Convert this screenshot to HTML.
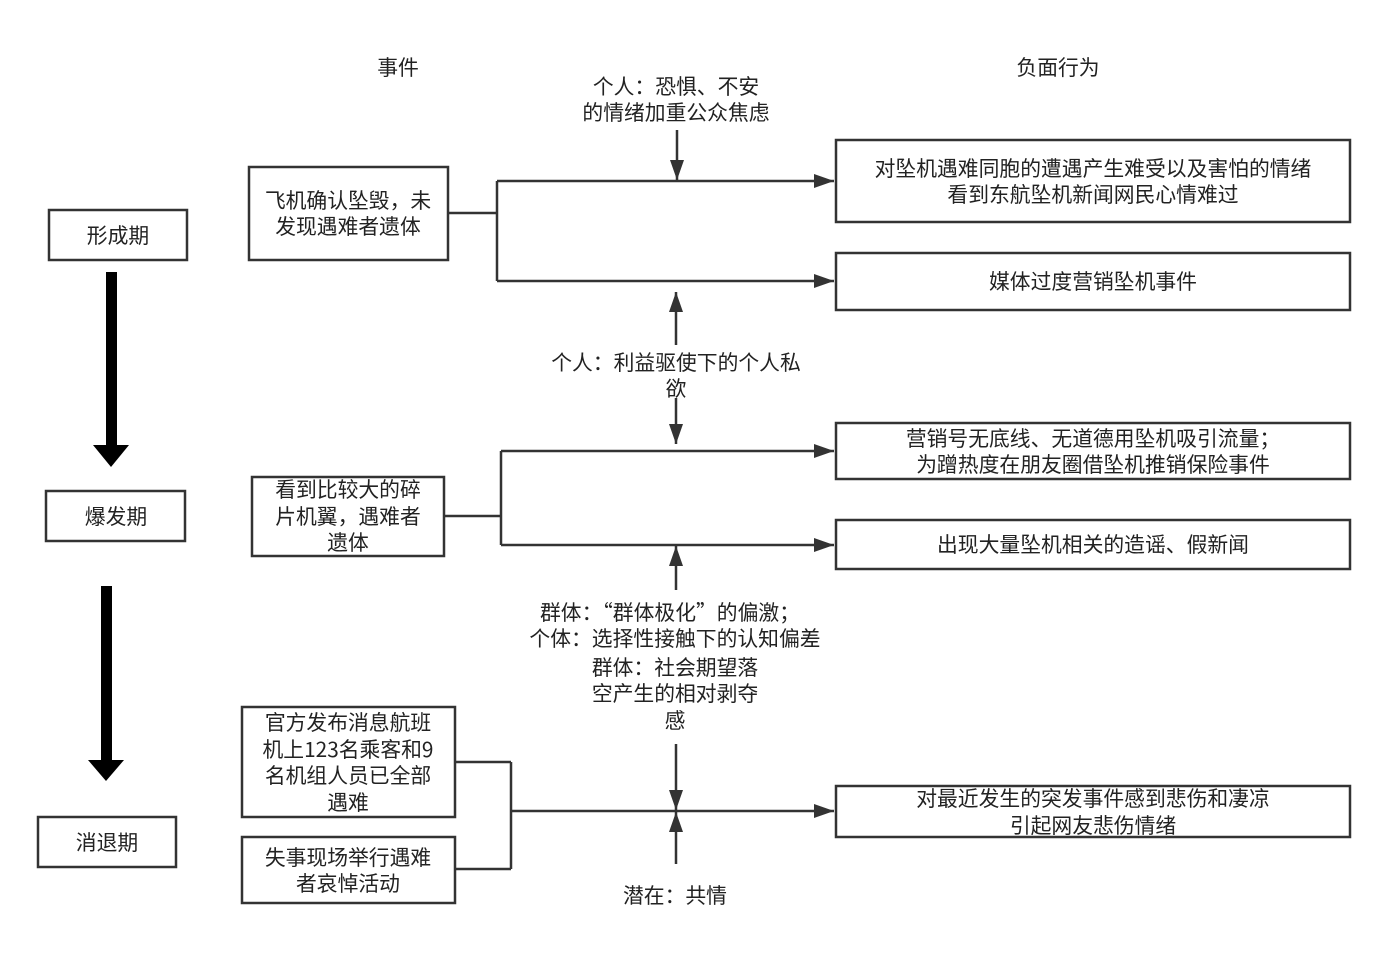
<!DOCTYPE html>
<html><head><meta charset="utf-8"><style>
body{margin:0;background:#fff}
svg text{font-family:"Noto Sans CJK SC","Liberation Sans",sans-serif;font-size:20.8px;fill:#222;text-anchor:middle;dominant-baseline:middle}
</style></head><body>
<svg width="1387" height="961" xmlns="http://www.w3.org/2000/svg">
<defs><marker id="b" markerWidth="20" markerHeight="14" refX="20" refY="7" orient="auto" markerUnits="userSpaceOnUse"><path d="M0,0L20,7L0,14z" fill="#333"/></marker></defs>
<g fill="#fff" stroke="#333" stroke-width="2.5">
<rect x="49" y="210" width="138" height="50"/><rect x="46" y="491" width="139" height="50"/><rect x="38" y="817" width="138" height="50"/>
<rect x="249" y="167" width="199" height="93"/><rect x="252" y="477" width="192" height="79"/><rect x="242" y="707" width="213" height="110"/><rect x="242" y="837" width="213" height="66"/>
<rect x="836" y="140" width="514" height="82"/><rect x="836" y="253" width="514" height="57"/><rect x="836" y="423" width="514" height="56"/><rect x="836" y="520" width="514" height="49"/><rect x="836" y="786" width="514" height="51"/>
</g>
<g fill="#000"><rect x="106" y="272" width="11" height="175"/><path d="M93,445L129,445L111,467z"/><rect x="101" y="586" width="11" height="176"/><path d="M88,760L124,760L106,781z"/></g>
<g fill="none" stroke="#333" stroke-width="2.5">
<path d="M448,213H497M497,181V281"/><path d="M497,181H834" marker-end="url(#b)"/><path d="M497,281H834" marker-end="url(#b)"/>
<path d="M677,130V180" marker-end="url(#b)"/><path d="M676,345V292" marker-end="url(#b)"/><path d="M676,398V444" marker-end="url(#b)"/>
<path d="M444,516H501M501,451V545"/><path d="M501,451H834" marker-end="url(#b)"/><path d="M501,545H834" marker-end="url(#b)"/>
<path d="M676,590V546" marker-end="url(#b)"/>
<path d="M455,762H511M455,869H511M511,762V869"/><path d="M511,811H834" marker-end="url(#b)"/>
<path d="M676,744V810" marker-end="url(#b)"/><path d="M676,864V812" marker-end="url(#b)"/>
</g>
<g transform="translate(0,2.5)">
<text x="398" y="67">事件</text><text x="1058" y="67">负面行为</text>
<text x="118" y="235">形成期</text><text x="116" y="516">爆发期</text><text x="107" y="842">消退期</text>
<text x="348" y="200">飞机确认坠毁，未</text><text x="348" y="226">发现遇难者遗体</text>
<text x="348" y="489">看到比较大的碎</text><text x="348" y="516">片机翼，遇难者</text><text x="348" y="542">遗体</text>
<text x="348" y="722">官方发布消息航班</text><text x="348" y="749">机上123名乘客和9</text><text x="348" y="775">名机组人员已全部</text><text x="348" y="802">遇难</text>
<text x="348" y="857">失事现场举行遇难</text><text x="348" y="883">者哀悼活动</text>
<text x="1093" y="168">对坠机遇难同胞的遭遇产生难受以及害怕的情绪</text><text x="1093" y="194">看到东航坠机新闻网民心情难过</text>
<text x="1093" y="281">媒体过度营销坠机事件</text>
<text x="1093" y="438">营销号无底线、无道德用坠机吸引流量；</text><text x="1093" y="464">为蹭热度在朋友圈借坠机推销保险事件</text>
<text x="1093" y="544">出现大量坠机相关的造谣、假新闻</text>
<text x="1093" y="798">对最近发生的突发事件感到悲伤和凄凉</text><text x="1093" y="825">引起网友悲伤情绪</text>
<text x="676" y="86">个人：恐惧、不安</text><text x="676" y="112">的情绪加重公众焦虑</text>
<text x="676" y="362">个人：利益驱使下的个人私</text><text x="676" y="388">欲</text>
<text x="670" y="612">群体：“群体极化”的偏激；</text><text x="675" y="638">个体：选择性接触下的认知偏差</text>
<text x="675" y="667">群体：社会期望落</text><text x="675" y="693">空产生的相对剥夺</text><text x="675" y="720">感</text>
<text x="675" y="895">潜在：共情</text>
</g>
</svg></body></html>
